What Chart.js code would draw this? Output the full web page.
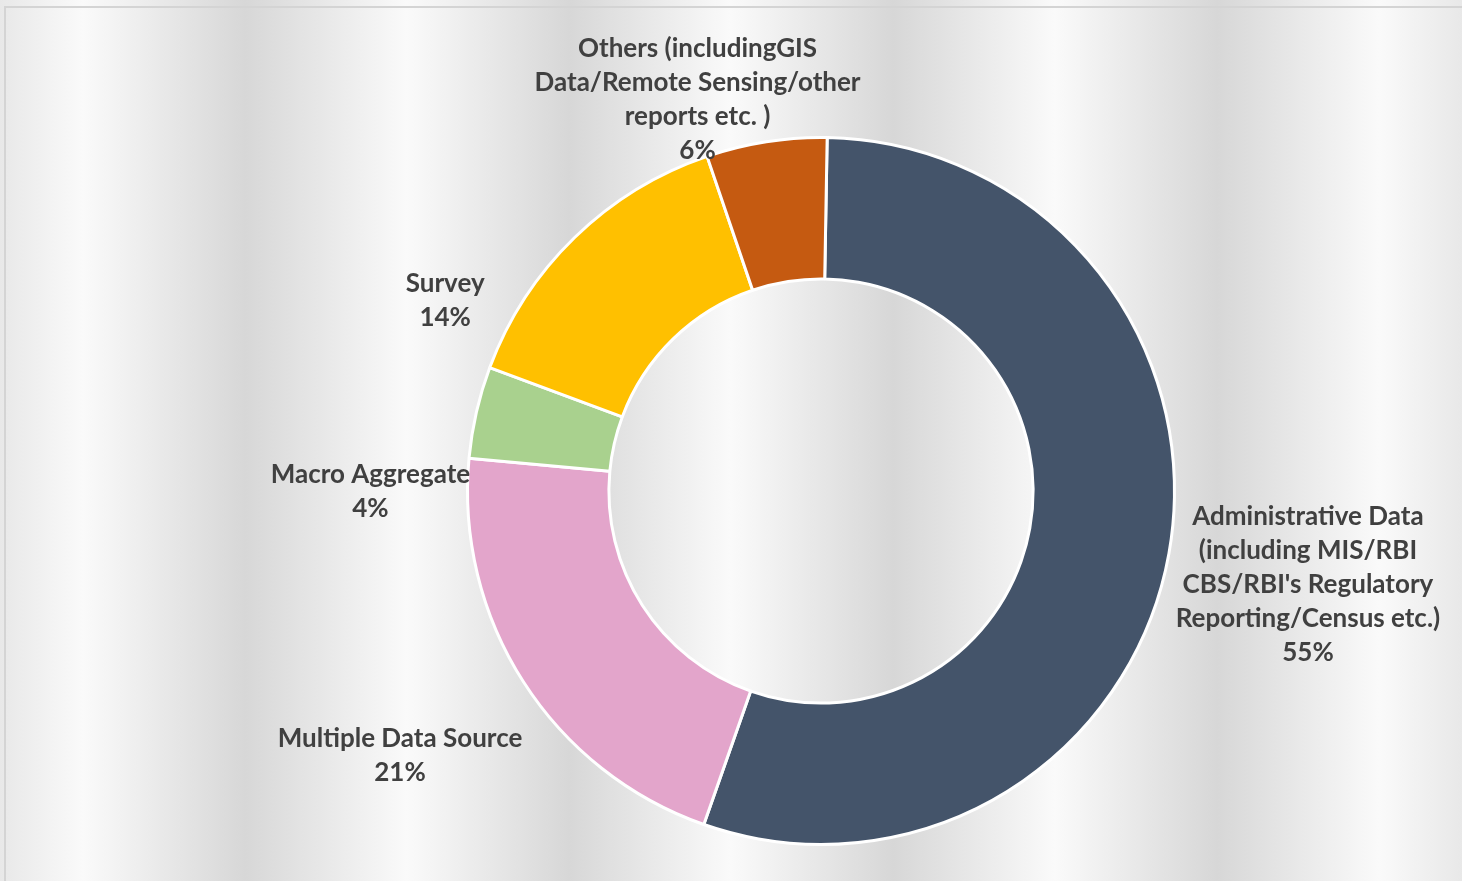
<!DOCTYPE html>
<html>
<head>
<meta charset="utf-8">
<script src="https://cdn.jsdelivr.net/npm/chart.js@4"></script>
<style>
  html, body { margin: 0; padding: 0; }
  body {
    width: 1462px;
    height: 881px;
    overflow: hidden;
    position: relative;
    background: repeating-linear-gradient(90deg, #e8e8e8 0px, #fafafa 83px, #d7d7d7 245px, #e8e8e8 324px);
  }
  #frame {
    position: absolute;
    left: 4px; top: 6px; right: -10px; bottom: -10px;
    border-top: 2px solid #d4d4d4;
    border-left: 2px solid #d4d4d4;
  }
  #wrap { position: absolute; left: 0; top: 0; width: 1462px; height: 881px; }
</style>
</head>
<body>
<div id="frame"></div>
<div id="wrap"><canvas id="myChart"></canvas></div>
<script>
// data (share of sources, %)
const categories = [
  ['Administrative Data', '(including MIS/RBI', "CBS/RBI's Regulatory", 'Reporting/Census etc.)'],
  ['Multiple Data Source'],
  ['Macro Aggregate'],
  ['Survey'],
  ['Others (includingGIS', 'Data/Remote Sensing/other', 'reports etc. )'],
];
const values = [55.1, 21.1, 4.2, 14.1, 5.5];
const colors = ['#44546A', '#E3A5CB', '#A9D18E', '#FFC000', '#C55A11'];

// label text drawn outside each slice
const sliceLabels = {
  id: 'sliceLabels',
  afterDatasetsDraw(chart, args, opts) {
    const ctx = chart.ctx;
    const meta = chart.getDatasetMeta(0);
    const total = values.reduce((a, b) => a + b, 0);
    ctx.save();
    ctx.font = opts.font;
    ctx.fillStyle = opts.color;
    ctx.textAlign = 'center';
    ctx.textBaseline = 'middle';
    meta.data.forEach((arc, i) => {
      const p = arc.getProps(['x', 'y', 'startAngle', 'endAngle', 'outerRadius']);
      const mid = (p.startAngle + p.endAngle) / 2;
      const dx = Math.cos(mid), dy = Math.sin(mid);
      const lines = [].concat(categories[i], Math.round(values[i] / total * 100) + '%');
      const w = Math.max(...lines.map((l) => ctx.measureText(l).width));
      const h = lines.length * opts.lineHeight;
      const r = p.outerRadius + opts.gap;
      const s = opts.shift[i] || [0, 0];
      const cx = p.x + dx * r + dx * w / 2 + s[0];
      const cy = p.y + dy * r + dy * h / 2 + s[1];
      lines.forEach((l, j) => ctx.fillText(l, cx, cy - h / 2 + opts.lineHeight * (j + 0.5)));
    });
    ctx.restore();
  },
};

function draw() {
  const ctx = document.getElementById('myChart').getContext('2d');
  new Chart(ctx, {
    type: 'doughnut',
    data: {
      labels: categories,
      datasets: [
        {
          data: values,
          backgroundColor: colors,
          borderColor: '#ffffff',
          borderWidth: 3,
        },
      ],
    },
    options: {
      responsive: true,
      maintainAspectRatio: false,
      animation: false,
      rotation: 1,
      cutout: '60%',
      layout: { padding: { top: 136, bottom: 35, left: 180, right: 0 } },
      plugins: {
        legend: { display: false },
        tooltip: { enabled: false },
        sliceLabels: {
          font: 'bold 26px Lato',
          color: '#404040',
          lineHeight: 34,
          gap: 10,
          shift: [[-1, 14], [-12, 50], [1, 89], [-95, 95], [-42, 35]],
        },
      },
    },
    plugins: [sliceLabels],
  });
}

document.fonts.load('bold 26px Lato').then(draw, draw);
</script>
</body>
</html>
